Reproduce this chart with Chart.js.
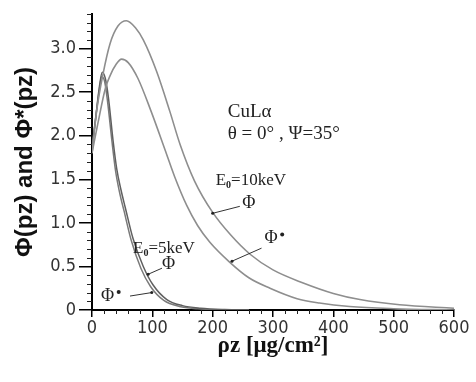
<!DOCTYPE html>
<html>
<head>
<meta charset="utf-8">
<title>Phi(pz) CuLa</title>
<script src="https://cdn.jsdelivr.net/npm/chart.js"></script>
<style>
  html, body { margin: 0; padding: 0; background: white; }
  #wrap { width: 476px; height: 382px; }
</style>
</head>
<body>
<div id="wrap"><canvas id="phiChart" width="476" height="382"></canvas></div>
<script>
// depth values (ug/cm2) and curve values
const pz10Phi  = [0, 8, 18, 30, 43, 57, 72, 85, 107, 129, 146, 170, 200, 230, 262, 300, 350, 400, 444, 510, 600];
const phi10    = [1.80, 2.30, 2.70, 3.06, 3.26, 3.32, 3.24, 3.10, 2.74, 2.28, 1.90, 1.48, 1.12, 0.86, 0.64, 0.46, 0.31, 0.19, 0.12, 0.06, 0.02];
const pz10Star = [0, 10, 22, 30, 40, 49, 60, 76, 98, 121, 137, 157, 175, 195, 228, 260, 295, 340, 377, 427, 500, 600];
const phi10Star= [1.80, 2.15, 2.54, 2.69, 2.82, 2.88, 2.84, 2.66, 2.28, 1.84, 1.53, 1.20, 0.97, 0.78, 0.55, 0.37, 0.25, 0.13, 0.08, 0.04, 0.015, 0.0];
const pz5Phi   = [0, 6, 12, 17, 22, 27, 35, 41, 48, 55, 68, 85, 101, 124, 150, 180, 220, 260];
const phi5     = [1.85, 2.20, 2.55, 2.73, 2.66, 2.45, 1.94, 1.62, 1.38, 1.18, 0.82, 0.50, 0.29, 0.12, 0.05, 0.02, 0.005, 0.0];
const pz5Star  = [0, 6, 12, 16, 21, 26, 33, 39, 46, 53, 65, 81, 97, 119, 145, 175, 210, 260];
const phi5Star = [1.85, 2.20, 2.52, 2.68, 2.62, 2.38, 1.94, 1.60, 1.34, 1.14, 0.80, 0.48, 0.27, 0.11, 0.04, 0.015, 0.003, 0.0];

const xTicks = [0, 100, 200, 300, 400, 500, 600];
const yTicks = [0, 0.5, 1.0, 1.5, 2.0, 2.5, 3.0];

const toPoints = (xs, ys) => xs.map((x, i) => ({ x: x, y: ys[i] }));

const serif = '"Liberation Serif", "DejaVu Serif", serif';
const sans = '"DejaVu Sans Condensed", "Liberation Sans Narrow", "Liberation Sans", sans-serif';

// minor ticks on both axes
const minorTicks = {
  id: 'minorTicks',
  afterDraw(chart) {
    const ctx = chart.ctx;
    const xs = chart.scales.x, ys = chart.scales.y;
    ctx.save();
    ctx.strokeStyle = '#222';
    ctx.lineWidth = 1;
    ctx.beginPath();
    for (let i = 0; i <= 34; i++) {
      if (i % 5 === 0) continue;
      const py = Math.round(ys.getPixelForValue(i / 10)) + 0.5;
      ctx.moveTo(xs.left - 5, py);
      ctx.lineTo(xs.left, py);
    }
    for (let i = 0; i <= 30; i++) {
      if (i % 5 === 0) continue;
      const px = Math.round(xs.getPixelForValue(i * 20)) + 0.5;
      ctx.moveTo(px, ys.bottom);
      ctx.lineTo(px, ys.bottom + 4);
    }
    ctx.stroke();
    ctx.restore();
  }
};

// text labels and leader lines placed in data coordinates
const notes = {
  id: 'notes',
  afterDraw(chart) {
    const ctx = chart.ctx;
    const xs = chart.scales.x, ys = chart.scales.y;
    const X = v => xs.getPixelForValue(v), Y = v => ys.getPixelForValue(v);
    ctx.save();
    ctx.fillStyle = '#222';
    ctx.textBaseline = 'alphabetic';

    ctx.font = '19px ' + serif;
    ctx.textAlign = 'left';
    ctx.fillText('CuLα', X(225), Y(2.21));
    ctx.fillText('θ = 0° , Ψ=35°', X(225), Y(1.96));

    function eLabel(text, x, y) {
      let px = X(x), py = Y(y);
      ctx.font = '17px ' + serif;
      ctx.fillText('E', px, py);
      px += ctx.measureText('E').width;
      ctx.font = 'bold 10px ' + serif;
      ctx.fillText('0', px, py + 3);
      px += ctx.measureText('0').width;
      ctx.font = '17px ' + serif;
      ctx.fillText(text, px, py);
    }
    eLabel('=10keV', 205, 1.43);
    eLabel('=5keV', 68, 0.65);

    function phiLabel(star, x, y) {
      ctx.font = '18px ' + serif;
      ctx.textAlign = 'center';
      ctx.textBaseline = 'middle';
      ctx.fillText('Φ', X(x), Y(y));
      if (star) {
        ctx.beginPath();
        ctx.arc(X(x) + 11, Y(y) - 4, 2, 0, Math.PI * 2);
        ctx.fill();
      }
    }
    phiLabel(false, 260, 1.22);
    phiLabel(true, 297, 0.82);
    phiLabel(false, 127, 0.52);
    phiLabel(true, 26, 0.16);

    function leader(x1, y1, x2, y2) {
      ctx.strokeStyle = '#333';
      ctx.lineWidth = 1;
      ctx.beginPath();
      ctx.moveTo(X(x1), Y(y1));
      ctx.lineTo(X(x2), Y(y2));
      ctx.stroke();
      ctx.beginPath();
      ctx.arc(X(x1), Y(y1), 1.5, 0, Math.PI * 2);
      ctx.fill();
    }
    leader(200, 1.11, 245, 1.19);
    leader(232, 0.56, 281, 0.71);
    leader(93, 0.41, 116, 0.48);
    leader(99, 0.20, 63, 0.16);
    ctx.restore();
  }
};

const ctx = document.getElementById('phiChart').getContext('2d');
new Chart(ctx, {
  type: 'line',
  data: {
    datasets: [
      { label: 'Phi 10keV', data: toPoints(pz10Phi, phi10), borderColor: '#8e8e8e', borderWidth: 1.6 },
      { label: 'Phi* 10keV', data: toPoints(pz10Star, phi10Star), borderColor: '#8e8e8e', borderWidth: 1.6 },
      { label: 'Phi 5keV', data: toPoints(pz5Phi, phi5), borderColor: '#606060', borderWidth: 1.5 },
      { label: 'Phi* 5keV', data: toPoints(pz5Star, phi5Star), borderColor: '#7a7a7a', borderWidth: 1.5 }
    ]
  },
  options: {
    responsive: false,
    animation: false,
    devicePixelRatio: 1,
    elements: { point: { radius: 0 }, line: { cubicInterpolationMode: 'monotone' } },
    layout: { padding: { left: 0, right: 22, top: 7, bottom: 0 } },
    plugins: { legend: { display: false }, tooltip: { enabled: false } },
    scales: {
      x: {
        type: 'linear',
        min: 0, max: 600,
        afterFit: s => { s.height = 72; },
        afterBuildTicks: s => { s.ticks = xTicks.map(v => ({ value: v })); },
        border: { color: '#000', width: 2 },
        grid: { drawOnChartArea: false, color: '#000', lineWidth: 1.5, tickLength: 7 },
        ticks: { color: '#333', padding: 1, font: { family: sans, size: 18 } },
        title: {
          display: true,
          text: 'ρz [μg/cm²]',
          color: '#111',
          font: { family: serif, size: 23, weight: 'bold' },
          padding: { top: 0, bottom: 22 }
        }
      },
      y: {
        type: 'linear',
        min: 0, max: 3.4,
        afterFit: s => { s.width = 92; },
        afterBuildTicks: s => { s.ticks = yTicks.map(v => ({ value: v })); },
        border: { color: '#000', width: 2 },
        grid: { drawOnChartArea: false, color: '#000', lineWidth: 1.5, tickLength: 13 },
        ticks: {
          color: '#333', padding: 3, font: { family: sans, size: 18 },
          callback: v => v === 0 ? '0' : v.toFixed(1)
        },
        title: {
          display: true,
          text: 'Φ(pz) and Φ*(pz)',
          color: '#111',
          font: { family: '"Liberation Sans", Arial, sans-serif', size: 24, weight: 'bold' },
          padding: { top: 11, bottom: 0 }
        }
      }
    }
  },
  plugins: [minorTicks, notes]
});
</script>
</body>
</html>
